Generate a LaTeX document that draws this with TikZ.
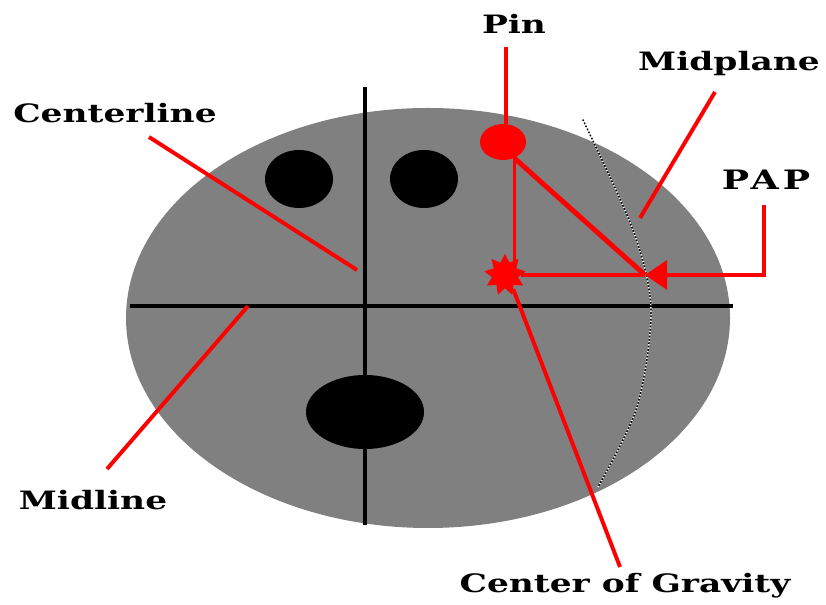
\documentclass[tikz,border=0pt]{standalone}
\usepackage{fontspec}
\usepackage{tikz}
\usetikzlibrary{calc, shapes.geometric, arrows.meta}
\newfontfamily\nhanfont{DejaVu Serif}[FakeStretch=1.36]

\begin{document}
\begin{tikzpicture}[>={Triangle[width=7.2mm, length=5.5mm]},
    chu/.style={font=\nhanfont\bfseries\fontsize{18}{20}\selectfont, inner sep=0pt},
    leader/.style={red, line width=2.8pt},
    hole/.style={ellipse, fill=black, inner sep=0pt}]
    \useasboundingbox (0,0) rectangle (20.65,15.1);

    % Mặt cắt và hai trục
    \fill[gray] (10.7,7.15) ellipse [x radius=7.55, y radius=5.25];
    \draw[line width=2.6pt] (3.25,7.45) -- (18.325,7.45);
    \draw[line width=2.6pt] (9.125,12.925) -- (9.125,1.975);

    % Các lỗ
    \node[hole, minimum width=1.7cm, minimum height=1.45cm] (lo1) at (7.475,10.625) {};
    \node[hole, minimum width=1.7cm, minimum height=1.45cm] (lo2) at (10.6,10.625) {};
    \node[hole, minimum width=2.95cm, minimum height=1.85cm] (lo3) at (9.125,4.8) {};

    % Mặt phẳng giữa (nét chấm)
    \foreach \mau/\pha in {white/0pt, black/1.2pt} {
        \draw[\mau, line width=1pt, dash pattern=on 1.2pt off 1.2pt, dash phase=\pha]
            plot[smooth] coordinates {(14.55,12.15) (15.825,9.35) (16.275,7.35) (15.925,4.925) (14.95,2.925)};
    }

    % Chốt, trọng tâm, PAP
    \node[ellipse, fill=red, inner sep=0pt, minimum width=1.15cm, minimum height=0.9cm] (pin) at (12.575,11.55) {};
    \node[star, star points=9, star point ratio=1.6, fill=red, inner sep=0pt, minimum size=1.05cm] (cog) at (12.625,8.225) {};
    \coordinate (pap) at (16.125,8.225);
    \draw[red, line width=2.3pt] (pin.305) -- (pin.305 |- cog.center);
    \draw[red, line width=3.5pt] (pin.305) -- (pap);
    \draw[leader] (cog) -- (pap);

    % Nhãn
    \node[chu] (Pin) at (12.85,14.5) {Pin};
    \node[chu] (Midplane) at (18.225,13.5) {Midplane};
    \node[chu, font=\nhanfont\bfseries\fontsize{19}{21}\selectfont] (PAP) at (19.15,10.6) {\addfontfeature{LetterSpace=15}PAP};
    \node[chu] (Centerline) at (2.875,12.275) {Centerline};
    \node[chu] (Midline) at (2.325,2.6) {Midline};
    \node[chu] (Gravity) at (15.625,0.45) {Center of Gravity};

    \coordinate (c1) at (8.925,8.35);
    \coordinate (c2) at (6.2,7.45);
    \coordinate (c3) at (16.0,9.65);

    \draw[leader] ($(pin.80 |- Pin.south)+(0,-0.33)$) -- (pin.80);
    \draw[leader] (Midplane) ++(-0.35,-0.7) -- (c3);
    \draw[leader, ->] (PAP) ++(-0.05,-0.625) |- (pap);
    \draw[leader] (Centerline) ++(0.85,-0.6) -- (c1);
    \draw[leader] (Midline) ++(0.35,0.775) -- (c2);
    \draw[leader] (Gravity) ++(-0.125,0.475) -- (cog.300);
\end{tikzpicture}
\end{document}
